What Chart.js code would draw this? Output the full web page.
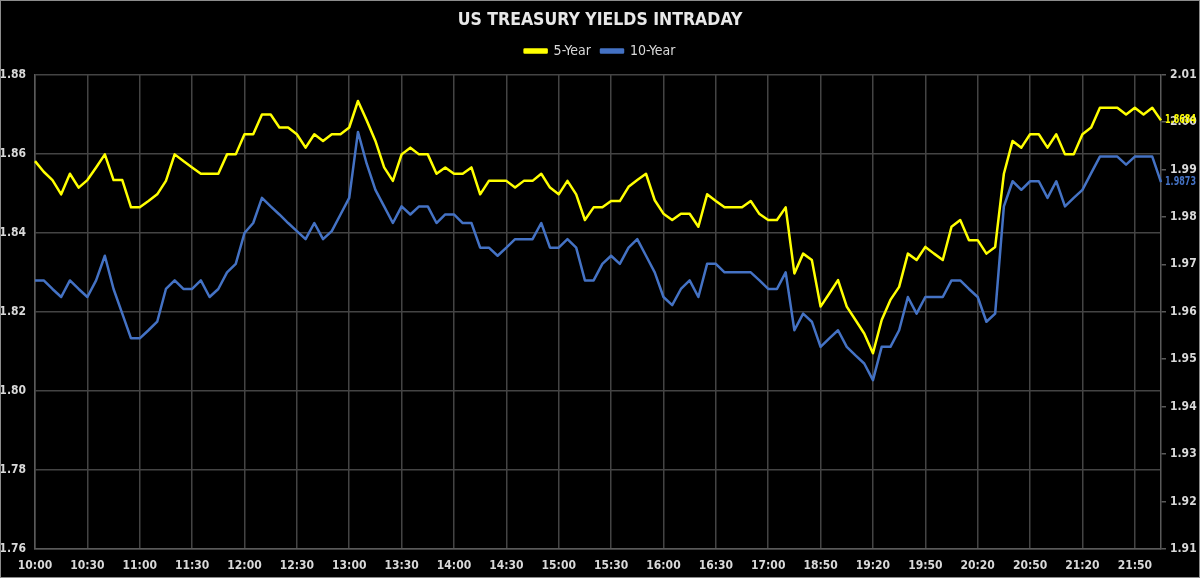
<!DOCTYPE html>
<html>
<head>
<meta charset="utf-8">
<script src="https://cdn.jsdelivr.net/npm/chart.js@4.4.1/dist/chart.umd.min.js"></script>
<style>
html,body{margin:0;padding:0;background:#000;}
#wrap{width:1200px;height:578px;box-sizing:border-box;border:1px solid #8c8c8c;background:#000;}
canvas{display:block;}
</style>
</head>
<body>
<div id="wrap"><canvas id="c" width="1198" height="576" style="width:1198px;height:576px"></canvas></div>
<script>
const timeLabels = [
'10:00','10:05','10:10','10:15','10:20','10:25','10:30','10:35','10:40','10:45','10:50','10:55',
'11:00','11:05','11:10','11:15','11:20','11:25','11:30','11:35','11:40','11:45','11:50','11:55',
'12:00','12:05','12:10','12:15','12:20','12:25','12:30','12:35','12:40','12:45','12:50','12:55',
'13:00','13:05','13:10','13:15','13:20','13:25','13:30','13:35','13:40','13:45','13:50','13:55',
'14:00','14:05','14:10','14:15','14:20','14:25','14:30','14:35','14:40','14:45','14:50','14:55',
'15:00','15:05','15:10','15:15','15:20','15:25','15:30','15:35','15:40','15:45','15:50','15:55',
'16:00','16:05','16:10','16:15','16:20','16:25','16:30','16:35','16:40','16:45','16:50','16:55',
'17:00','17:05','17:10','17:15','17:20','17:25',
'18:50','18:55','19:00','19:05','19:10','19:15','19:20','19:25','19:30','19:35','19:40','19:45',
'19:50','19:55','20:00','20:05','20:10','20:15','20:20','20:25','20:30','20:35','20:40','20:45',
'20:50','20:55','21:00','21:05','21:10','21:15','21:20','21:25','21:30','21:35','21:40','21:45',
'21:50','21:55','22:00','22:05'
];

const fiveYear = [
1.8581,1.8554,1.8533,1.8497,1.8549,1.8514,1.8533,1.8565,1.8598,1.8533,1.8533,1.8464,
1.8464,1.8480,1.8497,1.8531,1.8598,1.8581,1.8565,1.8549,1.8549,1.8549,1.8598,1.8598,
1.8649,1.8649,1.8699,1.8699,1.8666,1.8666,1.8649,1.8615,1.8649,1.8632,1.8649,1.8649,
1.8666,1.8733,1.8684,1.8632,1.8565,1.8531,1.8598,1.8615,1.8598,1.8598,1.8549,1.8565,
1.8549,1.8549,1.8565,1.8497,1.8531,1.8531,1.8531,1.8514,1.8531,1.8531,1.8549,1.8514,
1.8497,1.8531,1.8497,1.8432,1.8464,1.8464,1.8480,1.8480,1.8516,1.8533,1.8549,1.8482,
1.8448,1.8432,1.8448,1.8448,1.8415,1.8497,1.8480,1.8464,1.8464,1.8464,1.8480,1.8447,
1.8432,1.8432,1.8464,1.8297,1.8347,1.8331,
1.8213,1.8246,1.8280,1.8213,1.8179,1.8145,1.8095,1.8179,1.8230,1.8263,1.8347,1.8331,
1.8364,1.8347,1.8331,1.8415,1.8432,1.8381,1.8381,1.8347,1.8364,1.8549,1.8632,1.8615,
1.8649,1.8649,1.8615,1.8649,1.8598,1.8598,1.8649,1.8666,1.8716,1.8716,1.8716,1.8699,
1.8716,1.8699,1.8716,1.8684
];

const tenYear = [
1.9666,1.9666,1.9648,1.9631,1.9666,1.9648,1.9631,1.9666,1.9718,1.9648,1.9596,1.9544,
1.9544,1.9561,1.9579,1.9648,1.9666,1.9648,1.9648,1.9666,1.9631,1.9648,1.9683,1.9701,
1.9766,1.9787,1.9840,1.9822,1.9805,1.9787,1.9770,1.9753,1.9787,1.9753,1.9770,1.9805,
1.9840,1.9979,1.9912,1.9857,1.9822,1.9787,1.9822,1.9805,1.9822,1.9822,1.9787,1.9805,
1.9805,1.9787,1.9787,1.9735,1.9735,1.9718,1.9735,1.9753,1.9753,1.9753,1.9787,1.9735,
1.9735,1.9753,1.9735,1.9666,1.9666,1.9701,1.9718,1.9701,1.9735,1.9753,1.9718,1.9683,
1.9631,1.9614,1.9648,1.9666,1.9631,1.9701,1.9701,1.9683,1.9683,1.9683,1.9683,1.9666,
1.9648,1.9648,1.9683,1.9561,1.9596,1.9579,
1.9526,1.9544,1.9561,1.9526,1.9508,1.9491,1.9456,1.9526,1.9526,1.9561,1.9631,1.9596,
1.9631,1.9631,1.9631,1.9666,1.9666,1.9648,1.9631,1.9579,1.9596,1.9822,1.9875,1.9857,
1.9875,1.9875,1.9840,1.9875,1.9822,1.9840,1.9857,1.9892,1.9927,1.9927,1.9927,1.9910,
1.9927,1.9927,1.9927,1.9873
];

const seriesNames = ['5-Year', '10-Year'];
const leftAxisRange = [1.76, 1.88];
const leftAxisStep = 0.02;
const rightAxisRange = [1.91, 2.01];
const rightAxisStep = 0.01;
const labelEvery = 6;

const FONT = "'Liberation Sans Narrow','DejaVu Sans Condensed','Roboto Condensed','Liberation Sans',sans-serif";
const GRID = '#444444';
const AXIS = '#5a5a5a';
const TEXT = '#d9d9d9';
const YELLOW = '#ffff00';
const BLUE = '#4472c4';

const endLabels = {
  id: 'endLabels',
  afterDatasetsDraw(chart) {
    const ctx = chart.ctx;
    ctx.save();
    ctx.font = "bold 12px " + FONT;
    ctx.textAlign = 'left';
    ctx.textBaseline = 'middle';
    chart.data.datasets.forEach((ds, i) => {
      const meta = chart.getDatasetMeta(i);
      const pt = meta.data[meta.data.length - 1];
      const v = ds.data[ds.data.length - 1];
      ctx.fillStyle = ds.borderColor;
      ctx.fillText(v.toFixed(4), pt.x + 4, pt.y, 31);
    });
    ctx.restore();
  }
};

new Chart(document.getElementById('c'), {
  type: 'line',
  data: {
    labels: timeLabels,
    datasets: [
      { label: seriesNames[0], data: fiveYear, yAxisID: 'y', borderColor: YELLOW, backgroundColor: YELLOW,
        borderWidth: 2.5, pointRadius: 0, tension: 0, borderJoinStyle: 'round' },
      { label: seriesNames[1], data: tenYear, yAxisID: 'y2', borderColor: BLUE, backgroundColor: BLUE,
        borderWidth: 2.5, pointRadius: 0, tension: 0, borderJoinStyle: 'round' }
    ]
  },
  options: {
    responsive: false,
    animation: false,
    devicePixelRatio: 1,
    layout: { padding: 0 },
    plugins: {
      title: {
        display: true,
        text: 'US TREASURY YIELDS INTRADAY',
        color: '#e8e8e8',
        font: { family: FONT, size: 17.5, weight: 'bold' },
        padding: { top: 8.5, bottom: 3.5 }
      },
      subtitle: {
        display: true,
        text: '',
        weight: 500,
        font: { size: 1 },
        padding: { top: 0, bottom: 5.3 }
      },
      legend: {
        display: true,
        weight: 1000,
        labels: {
          color: TEXT,
          font: { family: FONT, size: 14 },
          boxWidth: 22,
          boxHeight: 3,
          padding: 10
        }
      },
      tooltip: { enabled: false }
    },
    scales: {
      x: {
        type: 'category',
        grid: {
          color: (c) => (c.index % labelEvery === 0 ? GRID : 'rgba(0,0,0,0)'),
          lineWidth: 1.5,
          drawTicks: false
        },
        border: { color: AXIS, width: 1.5 },
        ticks: {
          color: TEXT,
          font: { family: FONT, size: 12, weight: 'bold' },
          autoSkip: false,
          maxRotation: 0,
          minRotation: 0,
          padding: 10,
          callback: (v, i) => (i % labelEvery === 0 ? timeLabels[i] : '')
        },
        afterFit: (s) => { s.height = 28; }
      },
      y: {
        position: 'left',
        min: leftAxisRange[0],
        max: leftAxisRange[1],
        grid: { color: GRID, lineWidth: 1.5, drawTicks: false },
        border: { color: AXIS, width: 1.5 },
        ticks: {
          stepSize: leftAxisStep,
          color: TEXT,
          font: { family: FONT, size: 12, weight: 'bold' },
          padding: 9,
          callback: (v) => Number(v).toFixed(2)
        },
        afterFit: (s) => { s.width = 34; }
      },
      y2: {
        position: 'right',
        min: rightAxisRange[0],
        max: rightAxisRange[1],
        grid: { drawOnChartArea: false, drawTicks: true, tickLength: 5, color: AXIS, lineWidth: 1.5 },
        border: { color: AXIS, width: 1.5 },
        ticks: {
          stepSize: rightAxisStep,
          color: TEXT,
          font: { family: FONT, size: 12, weight: 'bold' },
          padding: 4,
          callback: (v) => Number(v).toFixed(2)
        },
        afterFit: (s) => { s.width = 38; }
      }
    }
  },
  plugins: [endLabels]
});
</script>
</body>
</html>
